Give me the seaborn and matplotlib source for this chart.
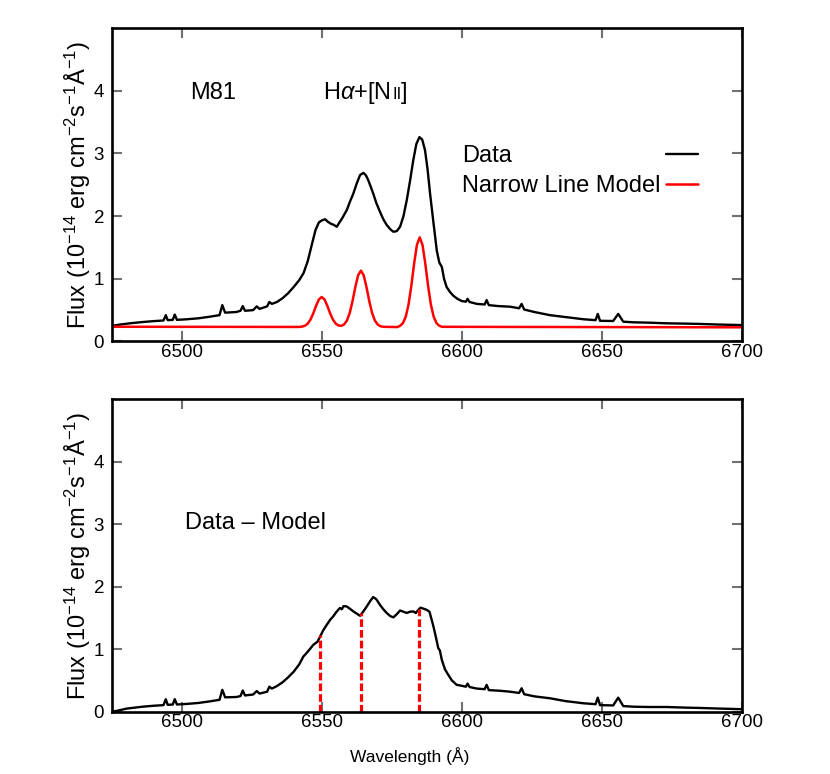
import matplotlib
matplotlib.use("Agg")
import matplotlib.pyplot as plt
import seaborn as sns

# observed spectrum (top panel)
wave_data = [6475.0, 6478.0, 6481.5, 6486.0, 6490.0, 6493.5, 6494.3, 6495.0, 6496.8, 6497.5,
             6498.3, 6502.0, 6506.0, 6510.0, 6513.5, 6514.5, 6515.5, 6519.5, 6521.0, 6521.8,
             6522.6, 6525.5, 6526.8, 6527.8, 6530.5, 6531.3, 6532.2, 6534.0, 6536.0, 6538.0,
             6540.0, 6542.0, 6543.5, 6545.0, 6546.5, 6547.8, 6549.0, 6550.0, 6551.2, 6552.2,
             6553.2, 6554.3, 6555.4, 6556.2, 6557.1, 6558.0, 6559.0, 6560.0, 6561.3, 6562.5,
             6563.7, 6564.9, 6565.8, 6566.6, 6567.5, 6568.4, 6569.5, 6570.8, 6572.0, 6573.2,
             6574.5, 6575.6, 6576.8, 6578.0, 6579.2, 6580.4, 6581.5, 6582.7, 6583.8, 6584.9,
             6585.9, 6586.9, 6587.8, 6588.7, 6589.9, 6591.1, 6592.0, 6592.9, 6593.7, 6594.6,
             6595.8, 6597.0, 6598.5, 6600.0, 6601.5, 6602.1, 6602.8, 6605.4, 6608.2, 6608.9,
             6609.7, 6613.0, 6617.3, 6620.5, 6621.4, 6622.3, 6626.0, 6631.5, 6637.0, 6643.4,
             6647.8, 6648.6, 6649.4, 6654.1, 6655.9, 6657.7, 6661.3, 6667.0, 6673.2, 6680.0,
             6685.1, 6692.0, 6700.0]
flux_data = [0.25, 0.27, 0.29, 0.31, 0.325, 0.335, 0.42, 0.34, 0.345, 0.43,
             0.345, 0.355, 0.37, 0.395, 0.42, 0.58, 0.46, 0.47, 0.49, 0.565,
             0.49, 0.50, 0.56, 0.52, 0.56, 0.63, 0.60, 0.63, 0.69, 0.77,
             0.87, 0.98, 1.09, 1.28, 1.55, 1.78, 1.90, 1.93, 1.95, 1.91,
             1.88, 1.86, 1.83, 1.89, 1.95, 2.02, 2.10, 2.22, 2.36, 2.52,
             2.655, 2.69, 2.65, 2.575, 2.47, 2.36, 2.21, 2.07, 1.95, 1.86,
             1.79, 1.75, 1.76, 1.83, 2.00, 2.26, 2.55, 2.89, 3.15, 3.26,
             3.22, 3.05, 2.75, 2.36, 1.90, 1.45, 1.26, 1.19, 1.00, 0.87,
             0.79, 0.73, 0.68, 0.645, 0.635, 0.68, 0.63, 0.60, 0.59, 0.66,
             0.58, 0.565, 0.555, 0.53, 0.60, 0.51, 0.47, 0.42, 0.39, 0.355,
             0.34, 0.44, 0.33, 0.327, 0.44, 0.316, 0.306, 0.30, 0.29, 0.285,
             0.28, 0.27, 0.262]

# narrow line model (top panel)
wave_model = [6475, 6542, 6543, 6544, 6545, 6546, 6547, 6548, 6549, 6550, 6551, 6552, 6553,
              6554, 6555, 6556, 6557, 6558, 6559, 6560, 6561, 6562, 6563, 6564, 6565, 6566,
              6567, 6568, 6569, 6570, 6571, 6572, 6577, 6578, 6579, 6580, 6581, 6582, 6583,
              6584, 6585, 6586, 6587, 6588, 6589, 6590, 6591, 6592, 6593, 6700]
flux_model = [0.235, 0.232, 0.237, 0.251, 0.285, 0.35, 0.45, 0.57, 0.67, 0.71, 0.67, 0.57, 0.45,
              0.35, 0.285, 0.255, 0.25, 0.272, 0.333, 0.454, 0.642, 0.866, 1.055, 1.13, 1.055, 0.866,
              0.642, 0.454, 0.333, 0.27, 0.243, 0.234, 0.23, 0.25, 0.293, 0.393, 0.586, 0.885, 1.241,
              1.541, 1.66, 1.541, 1.241, 0.885, 0.586, 0.393, 0.293, 0.25, 0.234, 0.226]

# residual, data - model (bottom panel)
wave_resid = [6475.0, 6477.0, 6480.4, 6486.0, 6490.0, 6493.5, 6494.3, 6495.0, 6496.8, 6497.5,
              6498.3, 6502.0, 6506.0, 6510.0, 6513.5, 6514.5, 6515.5, 6519.5, 6521.0, 6521.8,
              6522.6, 6525.5, 6526.8, 6527.8, 6530.5, 6531.3, 6532.2, 6534.0, 6536.0, 6538.0,
              6540.0, 6542.0, 6543.4, 6545.0, 6547.0, 6548.5, 6549.4, 6550.5, 6551.8, 6553.0,
              6554.1, 6555.3, 6556.5, 6557.2, 6557.8, 6558.9, 6560.0, 6561.3, 6562.5, 6563.7,
              6564.8, 6566.1, 6567.3, 6568.4, 6569.5, 6570.8, 6572.0, 6573.2, 6574.5, 6575.6,
              6576.8, 6578.0, 6579.2, 6580.4, 6581.5, 6582.7, 6583.6, 6584.5, 6585.3, 6586.3,
              6587.5, 6588.5, 6589.9, 6591.0, 6591.6, 6592.2, 6592.9, 6594.0, 6595.2, 6596.5,
              6598.2, 6600.0, 6601.5, 6602.1, 6602.8, 6605.4, 6608.2, 6608.9, 6609.7, 6613.7,
              6617.3, 6620.5, 6621.4, 6622.3, 6626.0, 6631.5, 6637.0, 6643.4, 6647.8, 6648.6,
              6649.4, 6654.1, 6655.9, 6657.7, 6661.3, 6667.0, 6673.2, 6680.0, 6685.0, 6692.0,
              6700.0]
flux_resid = [0.0, 0.015, 0.05, 0.08, 0.095, 0.105, 0.2, 0.11, 0.115, 0.2,
              0.115, 0.125, 0.14, 0.165, 0.19, 0.35, 0.23, 0.235, 0.25, 0.34,
              0.26, 0.275, 0.33, 0.29, 0.32, 0.40, 0.37, 0.41, 0.47, 0.55,
              0.64, 0.76, 0.88, 0.96, 1.07, 1.12, 1.20, 1.30, 1.39, 1.47,
              1.525, 1.60, 1.66, 1.64, 1.69, 1.685, 1.65, 1.605, 1.57, 1.535,
              1.60, 1.685, 1.77, 1.835, 1.80, 1.71, 1.64, 1.58, 1.53, 1.51,
              1.56, 1.62, 1.60, 1.58, 1.60, 1.605, 1.58, 1.63, 1.665, 1.65,
              1.63, 1.60, 1.365, 1.15, 1.02, 0.98, 0.83, 0.68, 0.59, 0.50,
              0.43, 0.415, 0.40, 0.45, 0.395, 0.37, 0.36, 0.43, 0.345, 0.335,
              0.32, 0.30, 0.375, 0.28, 0.245, 0.215, 0.17, 0.135, 0.12, 0.225,
              0.105, 0.10, 0.225, 0.09, 0.08, 0.075, 0.075, 0.065, 0.06, 0.05,
              0.04]

# narrow line centres marked in the bottom panel
line_centres = [6549.5, 6564.0, 6584.8]
line_tops = [1.22, 1.58, 1.64]

xticks = [6500, 6550, 6600, 6650, 6700]
yticks = [0, 1, 2, 3, 4]

sns.set_style("ticks")
plt.rcParams['font.family'] = ['Liberation Sans', 'DejaVu Sans']
plt.rcParams['mathtext.fontset'] = 'custom'
plt.rcParams['mathtext.rm'] = 'Liberation Sans'
plt.rcParams['mathtext.it'] = 'Liberation Sans:italic'
plt.rcParams['mathtext.bf'] = 'Liberation Sans:bold'
plt.rcParams['lines.scale_dashes'] = False
plt.rcParams['text.color'] = 'k'
plt.rcParams['axes.labelcolor'] = 'k'

ylab = r"Flux (10$^{-14}$ erg cm$^{-2}$s$^{-1}$Å$^{-1}$)"

fig = plt.figure(figsize=(8.3, 7.74), dpi=100)
ax1 = fig.add_axes([0.1346, 0.5588, 0.759, 0.405])
ax2 = fig.add_axes([0.1346, 0.0805, 0.759, 0.4036])


def style(ax):
    ax.set_xlim(6475, 6700)
    ax.set_ylim(0, 5)
    ax.set_xticks(xticks)
    ax.set_yticks(yticks)
    ax.tick_params(direction='in', length=7, width=1.5, color='#707070',
                   labelcolor='k', top=True, right=True, labelsize=13.5)
    ax.tick_params(axis='x', pad=1.5)
    ax.tick_params(axis='y', pad=5.5)
    for s in ax.spines.values():
        s.set_visible(True)
        s.set_linewidth(1.9)
        s.set_color('k')
    ax.set_ylabel(ylab, fontsize=17, color='k')
    ax.yaxis.set_label_coords(-0.029, 0.5)
    ax.set_xlabel("")


# top panel
sns.lineplot(x=wave_data, y=flux_data, ax=ax1, color='k', lw=1.7,
             estimator=None, sort=False, label="Data")
sns.lineplot(x=wave_model, y=flux_model, ax=ax1, color='red', lw=1.8,
             estimator=None, sort=False, label="Narrow Line Model")
style(ax1)
leg = ax1.legend(loc='upper left', bbox_to_anchor=(0.556, 0.627), frameon=False,
                 markerfirst=False, fontsize=17, handlelength=1.36, handletextpad=0.25,
                 labelspacing=0.36, borderpad=0, borderaxespad=0, labelcolor='k')

ax1.text(6503, 3.87, "M81", fontsize=17, va='baseline', color='k')
t1 = ax1.text(6550.5, 3.87, r"H$\alpha$+[N", fontsize=17, va='baseline', color='k')
fig.canvas.draw()
inv = ax1.transData.inverted()
xr = inv.transform((t1.get_window_extent().x1 + 1, 0))[0]
t2 = ax1.text(xr, 3.87, "II", fontsize=12, va='baseline', color='k')
fig.canvas.draw()
xr = inv.transform((t2.get_window_extent().x1, 0))[0]
ax1.text(xr, 3.87, "]", fontsize=17, va='baseline', color='k')

# left-align the legend texts while keeping the handles in one column on the right
rend = fig.canvas.get_renderer()
widths = [t.get_window_extent(rend).width for t in leg.get_texts()]
rows = leg._legend_handle_box.get_children()[0].get_children()
for row, w in zip(rows, widths):
    row.sep += (max(widths) - w) * 72.0 / fig.dpi

# bottom panel
sns.lineplot(x=wave_resid, y=flux_resid, ax=ax2, color='k', lw=1.7,
             estimator=None, sort=False)
for xc, yt in zip(line_centres, line_tops):
    ax2.plot([xc, xc], [0, yt], color='red', lw=2.3, dashes=[5.5, 2.2])
style(ax2)
ax2.text(6501.2, 2.93, "Data – Model", fontsize=17, va='baseline', color='k')
ax2.set_xlabel("Wavelength (Å)", fontsize=12.5, color='k')
ax2.xaxis.set_label_coords(0.4735, -0.112)

fig.savefig("out.png", dpi=100)
